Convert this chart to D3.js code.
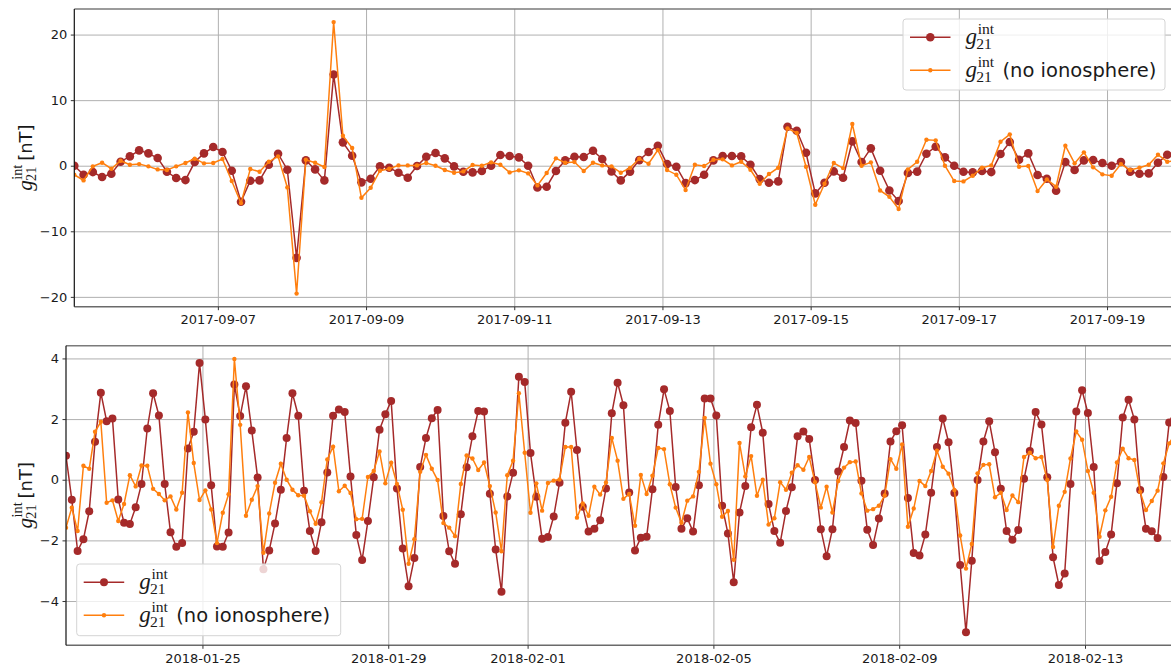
<!DOCTYPE html>
<html>
<head>
<meta charset="utf-8">
<script src="https://cdn.jsdelivr.net/npm/d3@7"></script>
<style>
  body { margin: 0; background: #fff; }
  svg { display: block; }
  .tick text { font-family: "DejaVu Sans", sans-serif; font-size: 13px; fill: #1a1a1a; }
</style>
</head>
<body>
<div id="chart"></div>
<script>
// 3-hourly samples, Sept 2017 (top panel)
var topStart = "2017-09-05T01:30:00Z", topEnd = "2017-09-19T22:30:00Z";
var topRed = [0, -1.37, -0.97, -1.73, -1.22, 0.61, 1.42, 2.34, 1.88, 1.17,
  -0.92, -1.88, -2.19, 0.56, 1.88, 2.85, 2.09, -0.76, -5.5, -2.29,
  -2.24, 0.15, 1.83, -0.61, -14.05, 0.81, -0.56, -2.24, 13.9, 3.56,
  1.53, -2.54, -1.98, -0.1, -0.3, -1.07, -1.83, -0.05, 1.37, 1.93,
  1.12, -0.1, -0.92, -1.02, -0.81, 0, 1.63, 1.48, 1.27, 0,
  -3.31, -3.2, -0.81, 0.81, 1.37, 1.32, 2.29, 1.02, -0.87, -2.24,
  -0.9, 0.85, 2.09, 3.05, 0.25, -0.15, -2.65, -2.19, -1.37, 0.81,
  1.48, 1.48, 1.42, 0.15, -2.04, -2.6, -2.39, 5.95, 5.34, 1.98,
  -4.22, -2.6, -0.87, -1.83, 3.72, 0.56, 2.65, -0.76, -3.77, -5.39,
  -1.12, -0.9, 1.83, 2.9, 1.27, 0, -0.92, -1.02, -0.81, -0.97,
  1.78, 3.61, 0.92, 1.88, -1.42, -1.98, -3.82, 0.56, -0.66, 0.81,
  0.87, 0.41, 0, 0.56, -0.92, -1.22, -1.17, 0.46, 1.68, 2.0];
var topOrange = [-1.37, -2.24, -0.1, 0.46, -0.46, 0.76, 0.15, 0.25, -0.1, -0.56,
  -0.66, -0.1, 0.41, 1.07, 0.36, 0.41, 1.02, -2.34, -5.7, -0.51,
  -0.92, 0.61, 1.42, -3.31, -19.5, 0.92, 0.46, -0.2, 21.9, 4.58,
  2.7, -4.89, -3.36, -0.76, -0.46, 0.05, 0.05, 0.05, 0.41, 0,
  -0.66, -1.07, -0.87, 0.1, 0, 0.51, 0.15, -1.02, -0.71, -1.17,
  -3.0, -1.12, 1.12, 0.46, 0.56, -0.81, 0.46, 0.05, -0.1, -1.07,
  -0.33, 1.07, 0.3, 2.39, -0.66, -1.37, -3.72, 0.15, -0.05, 0.92,
  0.97, 0.05, 0.61, -0.61, -2.75, -1.27, -0.3, 5.7, 4.99, -0.15,
  -5.95, -2.75, 0.41, -0.36, 6.36, 0, 0.51, -3.77, -4.75, -6.6,
  -0.56, 0.6, 3.97, 3.87, 0, -2.34, -2.39, -1.53, -0.3, 0.05,
  3.66, 4.78, -0.15, -0.05, -3.87, -2.09, -3.2, 3.05, 0.36, 2.04,
  -0.25, -1.32, -1.53, 0.25, -0.66, -0.3, 0.15, 1.68, 0.61, 0.8];
var topYTicks = [-20, -10, 0, 10, 20];
var topXTicks = ["2017-09-07", "2017-09-09", "2017-09-11", "2017-09-13", "2017-09-15", "2017-09-17", "2017-09-19"];

// 3-hourly samples, Jan/Feb 2018 (bottom panel)
var botStart = "2018-01-22T01:30:00Z", botEnd = "2018-02-14T22:30:00Z";
var botRed = [0.79, -0.66, -2.35, -1.96, -1.04, 1.25, 2.87, 1.93, 2.02, -0.65,
  -1.42, -1.46, -0.91, -0.14, 1.69, 2.85, 2.12, -0.14, -1.73, -2.21,
  -2.09, 1.03, 1.58, 3.85, 1.99, -0.18, -2.2, -2.21, -1.74, 3.14,
  2.1, 3.08, 1.62, 0.07, -2.95, -2.33, -1.44, -0.33, 1.38, 2.85,
  2.11, -0.36, -1.69, -2.35, -1.4, 0.24, 2.11, 2.32, 2.23, 0.11,
  -1.82, -2.65, -1.36, 0.08, 1.65, 2.16, 2.6, -0.29, -2.27, -3.51,
  -2.58, 0.42, 1.38, 2.03, 2.3, -1.2, -2.36, -2.77, -1.14, 0.41,
  1.43, 2.27, 2.25, -0.46, -2.3, -3.69, -0.55, 0.23, 3.4, 3.22,
  0.88, -0.56, -1.95, -1.89, -1.21, -0.1, 1.88, 2.9, 0.98, -0.89,
  -1.71, -1.62, -1.34, -0.29, 2.19, 3.2, 2.46, -0.42, -2.33, -1.91,
  -1.88, -0.31, 1.81, 2.98, 2.27, -0.24, -1.62, -1.27, -1.71, -0.18,
  2.68, 2.68, 2.12, -0.86, -1.77, -3.38, -1.08, -0.21, 1.73, 2.47,
  1.55, -0.8, -1.69, -2.08, -1.03, -0.25, 1.43, 1.59, 1.34, -0.01,
  -1.63, -2.52, -1.63, 0.27, 1.08, 1.95, 1.87, -0.03, -1.65, -2.15,
  -1.28, -0.45, 1.26, 1.6, 1.8, -0.6, -2.42, -2.5, -1.81, -0.43,
  1.08, 2.02, 1.24, -0.44, -2.81, -5.03, -2.67, -0.01, 1.26, 1.93,
  0.91, -0.3, -1.69, -1.98, -1.66, 0.03, 0.95, 2.23, 1.82, 0.08,
  -2.56, -3.47, -3.09, -0.14, 2.25, 2.95, 2.2, 0.42, -2.68, -2.38,
  -1.81, -0.12, 2.05, 2.64, 1.99, -0.34, -1.62, -1.7, -1.92, 0.09,
  1.89, 2.3];
var botOrange = [-1.58, -0.92, -1.69, 0.46, 0.36, 1.58, 1.91, -0.76, -0.68, -1.36,
  -0.8, 0.15, -0.22, 0.47, 0.46, -0.3, -0.47, -0.68, -0.55, -0.98,
  -0.43, 2.22, 0.55, -0.67, -0.35, -0.98, -2.09, -1.09, -0.48, 3.98,
  1.81, -1.19, -0.66, -0.21, -2.41, -1.11, -0.1, 0.53, 0, -0.33,
  -0.51, -0.53, -1.04, -1.45, -0.74, 0.67, 1.09, -0.38, -0.2, -0.44,
  -1.3, -1.29, 0.09, 0.29, 0.93, -0.12, 0.56, -0.14, -0.99, -2.77,
  -1.96, 0.26, 0.82, 0.36, -0.01, -1.43, -1.58, -1.86, -0.14, 0.8,
  0.7, 0.32, 0.57, -0.21, -1.08, -2.36, 0.15, 0.63, 2.85, 0.89,
  -1.09, -0.12, -1.02, -0.11, -0.03, 0.01, 1.08, 1.08, -1.25, -0.78,
  -1.19, -0.23, -0.49, -0.09, 1.38, 0.63, -0.63, -0.47, -1.52, 0.16,
  -0.47, 0.13, 1.05, 1.01, -0.15, -0.92, -1.42, -0.69, -0.55, 0.26,
  2.04, 0.53, -0.15, -1.22, -1.03, -2.64, 1.21, 0.11, 0.78, -0.53,
  0, -1.48, -1.27, -0.08, -0.33, 0.23, 0.48, 0.33, 0.75, -0.08,
  -0.92, -0.23, -1.08, -0.04, 0.4, 0.58, 0.6, -0.45, -1.02, -0.97,
  -0.86, -0.52, 0.68, 0.36, 1.16, -1.55, -0.95, -0.04, -0.21, 0.29,
  0.96, 0.43, 0.2, -0.34, -1.84, -2.93, -2.12, 0.21, 0.49, 0.51,
  -0.58, -0.43, -1.0, -0.52, -0.74, 0.75, 0.89, 0.71, 0.75, -0.01,
  -2.22, -0.86, -0.4, 0.7, 1.59, 1.32, 0.29, -0.43, -1.88, -1.01,
  -0.56, 0.57, 1.02, 0.71, 0.65, -0.4, -1.0, -0.7, -0.36, 0.54,
  1.2, 1.5];
var botYTicks = [-4, -2, 0, 2, 4];
var botXTicks = ["2018-01-25", "2018-01-29", "2018-02-01", "2018-02-05", "2018-02-09", "2018-02-13"];

var seriesNames = ["", "(no ionosphere)"];
var red = "#a52a2a", orange = "#ff7f0e";

var svg = d3.select("#chart").append("svg")
    .attr("width", 1171)
    .attr("height", 669);

// g_21^int written out by hand (no mathtext in svg)
function mathG(sel, x, y, size) {
    var t = sel.append("g").attr("transform", "translate(" + x + "," + y + ")")
        .style("font-family", "'Liberation Serif', 'DejaVu Serif', serif")
        .attr("fill", "#1a1a1a");
    t.append("text").attr("x", 0).attr("y", 0)
        .style("font-style", "italic").style("font-size", size + "px").text("g");
    t.append("text").attr("x", size * 0.53).attr("y", -size * 0.45)
        .style("font-size", (size * 0.68) + "px").text("int");
    t.append("text").attr("x", size * 0.47).attr("y", size * 0.2)
        .style("font-size", (size * 0.68) + "px").text("21");
    return t;
}

function panel(p) {
    var start = new Date(p.start);
    var times = p.red.map(function(d, i) { return d3.utcHour.offset(start, 3 * i); });
    var x = d3.scaleUtc().domain([start, new Date(p.end)]).range([p.left, p.right]);
    var y = d3.scaleLinear().domain(p.yDomain).range([p.bottom, p.top]);
    var xt = p.xTicks.map(function(s) { return new Date(s + "T00:00:00Z"); });
    var h = p.bottom - p.top;

    var g = svg.append("g");
    g.append("clipPath").attr("id", "clip" + p.id)
      .append("rect")
        .attr("x", p.left).attr("y", p.top)
        .attr("width", p.right - p.left).attr("height", h);

    // grid
    g.append("g")
        .attr("transform", "translate(0," + p.bottom + ")")
        .call(d3.axisBottom(x).tickValues(xt).tickSize(-h).tickFormat(""))
        .call(function(a) { a.select(".domain").remove(); })
        .selectAll("line").attr("stroke", "#b0b0b0").attr("stroke-width", 1);
    g.append("g")
        .attr("transform", "translate(" + p.left + ",0)")
        .call(d3.axisLeft(y).tickValues(p.yTicks).tickSize(-(p.right - p.left)).tickFormat(""))
        .call(function(a) { a.select(".domain").remove(); })
        .selectAll("line").attr("stroke", "#b0b0b0").attr("stroke-width", 1);

    // data
    var plot = g.append("g").attr("clip-path", "url(#clip" + p.id + ")");
    var line = d3.line()
        .x(function(d, i) { return x(times[i]); })
        .y(function(d) { return y(d); });

    plot.append("path").attr("d", line(p.red))
        .attr("fill", "none").attr("stroke", red).attr("stroke-width", 1.5);
    plot.selectAll("circle.r").data(p.red).enter().append("circle")
        .attr("class", "r")
        .attr("cx", function(d, i) { return x(times[i]); })
        .attr("cy", function(d) { return y(d); })
        .attr("r", p.rRed).attr("fill", red);

    plot.append("path").attr("d", line(p.orange))
        .attr("fill", "none").attr("stroke", orange).attr("stroke-width", 1.5);
    plot.selectAll("circle.o").data(p.orange).enter().append("circle")
        .attr("class", "o")
        .attr("cx", function(d, i) { return x(times[i]); })
        .attr("cy", function(d) { return y(d); })
        .attr("r", 2.2).attr("fill", orange);

    // spines
    g.append("line").attr("x1", p.left).attr("x2", p.right).attr("y1", p.top).attr("y2", p.top)
        .attr("stroke", "#7a7a7a").attr("stroke-width", 1.6);
    g.append("line").attr("x1", p.left).attr("x2", p.right).attr("y1", p.bottom).attr("y2", p.bottom)
        .attr("stroke", "#6a6a6a").attr("stroke-width", 1.6);
    g.append("line").attr("x1", p.left).attr("x2", p.left).attr("y1", p.top).attr("y2", p.bottom)
        .attr("stroke", "#111").attr("stroke-width", 1.2);

    // axes
    g.append("g")
        .attr("transform", "translate(0," + p.bottom + ")")
        .call(d3.axisBottom(x).tickValues(xt).tickSize(3.5).tickPadding(5)
            .tickFormat(d3.utcFormat("%Y-%m-%d")))
        .call(function(a) { a.select(".domain").remove(); })
        .selectAll("line").attr("stroke", "#333");
    g.append("g")
        .attr("transform", "translate(" + p.left + ",0)")
        .call(d3.axisLeft(y).tickValues(p.yTicks).tickSize(3.5).tickPadding(3.5)
            .tickFormat(d3.format("d")))
        .call(function(a) { a.select(".domain").remove(); })
        .selectAll("line").attr("stroke", "#333");

    // y label
    var yc = (p.top + p.bottom) / 2;
    var lab = g.append("g").attr("transform", "translate(31.5," + yc + ") rotate(-90)");
    mathG(lab, -33, 0, 21);
    lab.append("text").attr("x", -3).attr("y", 0)
        .style("font-family", "'DejaVu Sans', sans-serif").style("font-size", "18px")
        .attr("fill", "#1a1a1a").text("[nT]");

    // legend
    var L = p.legend;
    var lg = g.append("g");
    lg.append("rect").attr("x", L.x).attr("y", L.y).attr("width", L.w).attr("height", L.h)
        .attr("rx", 3).attr("fill", "#fff").attr("fill-opacity", 0.8)
        .attr("stroke", "#d4d4d4").attr("stroke-width", 1);
    [red, orange].forEach(function(c, k) {
        var ly = L.y + 18.3 + k * 33;
        lg.append("line").attr("x1", L.x + 7).attr("x2", L.x + 47.5)
            .attr("y1", ly).attr("y2", ly).attr("stroke", c).attr("stroke-width", 1.5);
        lg.append("circle").attr("cx", L.x + 27.3).attr("cy", ly)
            .attr("r", k === 0 ? p.rRed : 2.2).attr("fill", c);
        mathG(lg, L.x + 62.5, ly + 7, 23);
        if (seriesNames[k]) {
            lg.append("text").attr("x", L.x + 99.5).attr("y", ly + 7)
                .style("font-family", "'DejaVu Sans', sans-serif").style("font-size", "19.5px")
                .attr("fill", "#1a1a1a").text(seriesNames[k]);
        }
    });
}

panel({
    id: "top", start: topStart, end: topEnd,
    left: 74.3, right: 1176.5, top: 9, bottom: 306.7,
    yDomain: [-21.5, 23.9], yTicks: topYTicks, xTicks: topXTicks,
    red: topRed, orange: topOrange, rRed: 4.3,
    legend: { x: 903, y: 19, w: 262, h: 71 }
});

panel({
    id: "bot", start: botStart, end: botEnd,
    left: 66, right: 1175, top: 345.7, bottom: 645.3,
    yDomain: [-5.46, 4.42], yTicks: botYTicks, xTicks: botXTicks,
    red: botRed, orange: botOrange, rRed: 4,
    legend: { x: 76.7, y: 564, w: 264, h: 71.7 }
});
</script>
</body>
</html>
